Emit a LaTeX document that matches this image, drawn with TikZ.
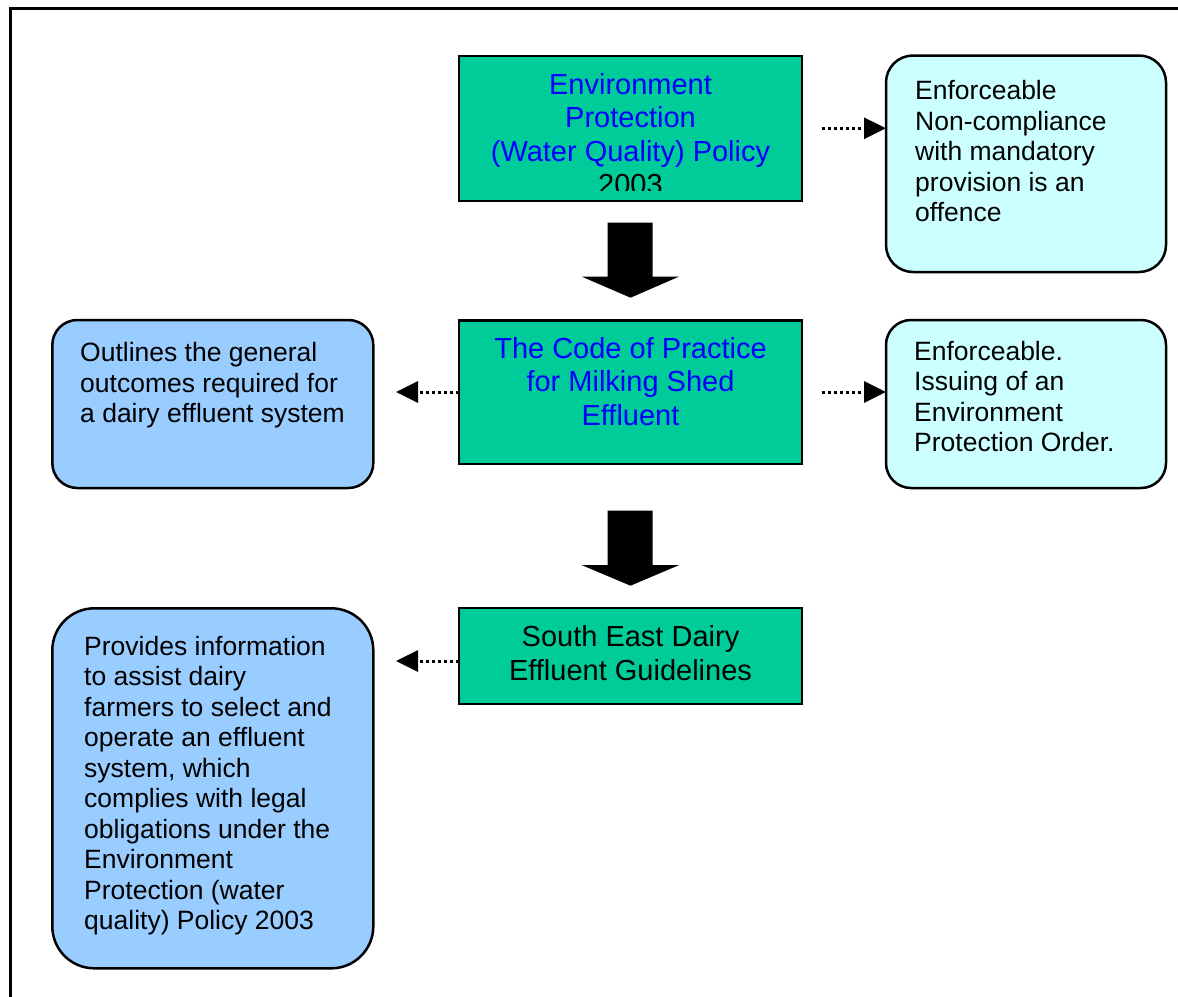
\documentclass[tikz,border=0pt]{standalone}
\usepackage{fontspec}
\setmainfont{Liberation Sans}
\usetikzlibrary{arrows.meta}
\definecolor{boxgreen}{HTML}{00CC99}
\definecolor{boxcyan}{HTML}{CCFFFF}
\definecolor{boxblue}{HTML}{99CCFF}
\definecolor{txtblue}{HTML}{0000FF}
\newcommand\linesL[2]{\vtop{\hsize=#1\parindent=0pt\raggedright\leavevmode #2}}
\newcommand\linesC[2]{\vtop{\hsize=#1\parindent=0pt\centering\leavevmode #2}}
\tikzset{
  greenbox/.style={draw=black, line width=2.5pt, fill=boxgreen, rectangle, inner sep=0pt, outer sep=0pt},
  softbox/.style={draw=black, line width=2.5pt, rectangle, inner sep=0pt, outer sep=0pt},
  cyanbox/.style={softbox, fill=boxcyan},
  bluebox/.style={softbox, fill=boxblue},
  greentext/.style={anchor=base, inner sep=0pt, font=\fontsize{29pt}{33.4pt}\selectfont},
  sidetext/.style={anchor=base west, inner sep=0pt, font=\fontsize{26.5pt}{30.5pt}\selectfont},
  dotarrow/.style={line width=3pt, dash pattern=on 3pt off 3pt, -{Triangle[length=22pt,width=21pt]}},
  blockarrow/.style={fill=black, draw=none}
}
\begin{document}
\begin{tikzpicture}[x=1pt,y=-1pt]
\useasboundingbox (0,0) rectangle (1178,996);
% outer frame
\draw[line width=3pt, color=black] (1180,8.3) -- (10,8.3) -- (10,1000);

% green boxes
\node[greenbox, minimum width=343pt, minimum height=145pt] (g1) at (630.5,128.5) {};
\node[greenbox, minimum width=343pt, minimum height=143.5pt] (g2) at (630.5,392.25) {};
\node[greenbox, minimum width=343pt, minimum height=96pt] (g3) at (630.5,656.2) {};

% side boxes
\node[cyanbox, rounded corners=27pt, minimum width=280pt, minimum height=216.5pt] (c1) at (1026,163.75) {};
\node[cyanbox, rounded corners=25pt, minimum width=280pt, minimum height=168pt] (c2) at (1026,404) {};
\node[bluebox, rounded corners=25pt, minimum width=321pt, minimum height=168pt] (b1) at (212.8,404) {};
\node[bluebox, rounded corners=42pt, minimum width=321pt, minimum height=360pt] (b2) at (212.8,788.3) {};

% green box texts
\begin{scope}
\clip (460.5,57.5) rectangle (800.5,190);
\node[greentext, text=txtblue] (t1) at (630.5,94.3) {\linesC{340pt}{Environment\\Protection\\(Water Quality) Policy\\{\color{black}2003}}};
\end{scope}
\node[greentext, text=txtblue] (t2) at (630.5,358.3) {\linesC{340pt}{The Code of Practice\\for Milking Shed\\Effluent}};
\node[greentext] (t3) at (630.5,646.7) {\linesC{340pt}{South East Dairy\\Effluent Guidelines}};

% side texts
\node[sidetext] (tc1) at (915,99.5) {\linesL{250pt}{Enforceable\\Non-compliance\\with mandatory\\provision is an\\offence}};
\node[sidetext] (tc2) at (914,360) {\linesL{250pt}{Enforceable.\\Issuing of an\\Environment\\Protection Order.}};
\node[sidetext] (tb1) at (80,361.7) {\linesL{290pt}{Outlines the general\\outcomes required for\\a dairy effluent system}};
\node[sidetext] (tb2) at (84,655) {\linesL{280pt}{Provides information\\to assist dairy\\farmers to select and\\operate an effluent\\system, which\\complies with legal\\obligations under the\\Environment\\Protection (water\\quality) Policy 2003}};

% dotted connectors
\coordinate (s1) at (822,128.3);
\coordinate (s2) at (822,392);
\coordinate (e3) at (396,392);
\coordinate (e4) at (396,661);
\draw[dotarrow] (s1) -- (c1.west |- s1);
\draw[dotarrow] (s2) -- (c2.west |- s2);
\draw[dotarrow] (g2.west |- e3) -- (e3);
\draw[dotarrow] (g3.west |- e4) -- (e4);

% block arrows
\fill[blockarrow] (607.7,222.7) -- (652.7,222.7) -- (652.7,276.5) -- (679.3,276.5) -- (630.5,297.7) -- (581.5,276.5) -- (607.7,276.5) -- cycle;
\fill[blockarrow] (607.7,510.7) -- (652.7,510.7) -- (652.7,565) -- (679.3,565) -- (630.5,585.7) -- (581.5,565) -- (607.7,565) -- cycle;
\end{tikzpicture}
\end{document}
